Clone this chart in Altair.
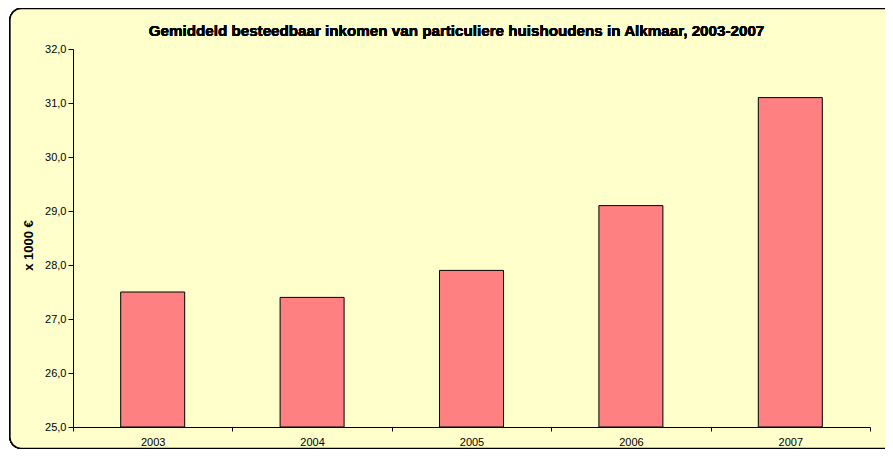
import altair as alt
import pandas as pd

years = ["2003", "2004", "2005", "2006", "2007"]
income = [27.5, 27.4, 27.9, 29.1, 31.1]
title_text = "Gemiddeld besteedbaar inkomen van particuliere huishoudens in Alkmaar, 2003-2007"

df = pd.DataFrame({"jaar": years, "inkomen": income})

W, H = 797, 378
FONT = "Liberation Sans"

frame = alt.Chart(df).mark_rect(
    fill="#FFFFCC", stroke="#000000", strokeWidth=1.3,
    cornerRadiusTopLeft=11, cornerRadiusBottomLeft=11,
    cornerRadiusTopRight=0, cornerRadiusBottomRight=0,
).encode(
    x=alt.value(-63), x2=alt.value(840), y=alt.value(-40.3), y2=alt.value(399.3)
)

bars = alt.Chart(df).mark_bar(
    size=64, color="#FF8080", stroke="#000000", strokeWidth=1
).encode(
    x=alt.X("jaar:N", sort=years,
            scale=alt.Scale(paddingInner=0, paddingOuter=0),
            axis=alt.Axis(title=None, labelAngle=0, tickBand="extent",
                          tickSize=4, labelPadding=5, labelFontSize=11,
                          labelFont=FONT, labelColor="#000000",
                          domainColor="#000000", tickColor="#000000",
                          zindex=1)),
    y=alt.Y("inkomen:Q",
            scale=alt.Scale(domain=[25, 32], zero=False, nice=False),
            axis=alt.Axis(title="x 1000 €", values=[25, 26, 27, 28, 29, 30, 31, 32],
                          labelExpr="replace(format(datum.value, '.1f'), '.', ',')",
                          grid=False, tickSize=5, labelPadding=2,
                          labelFontSize=11, labelFont=FONT, labelColor="#000000",
                          titleFont=FONT, titleFontSize=13, titleFontWeight="bold",
                          titleColor="#000000", titlePadding=9, titleY=196,
                          domainColor="#000000", tickColor="#000000",
                          zindex=1)),
    y2=alt.datum(25),
)

title = alt.Chart(df).mark_text(
    text=title_text, font=FONT, fontSize=15.2, fontWeight="bold",
    color="#000000", align="center", baseline="alphabetic"
).encode(x=alt.value(383.5), y=alt.value(-13.3))

chart = alt.layer(frame, bars, title).properties(
    width=W, height=H,
    autosize=alt.AutoSizeParams(type="none"),
    padding={"left": 65, "top": 41, "right": 15, "bottom": 22},
    background="#FFFFFF",
).configure_view(stroke="#808080", strokeWidth=1, fill=None)

chart.save("out.html", embed_options={"renderer": "svg", "actions": False})
